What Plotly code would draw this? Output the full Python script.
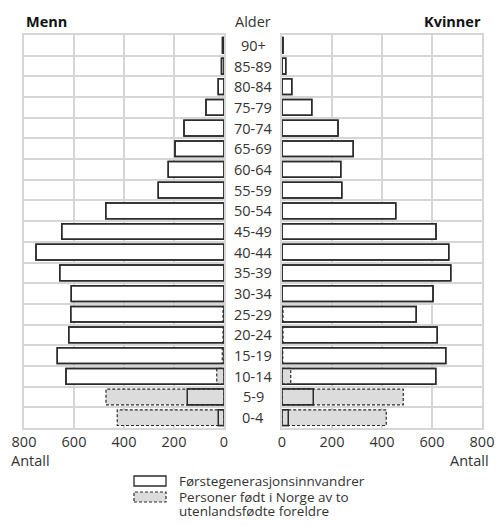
import plotly.graph_objects as go

categories = ["0-4", "5-9", "10-14", "15-19", "20-24", "25-29", "30-34", "35-39",
              "40-44", "45-49", "50-54", "55-59", "60-64", "65-69", "70-74",
              "75-79", "80-84", "85-89", "90+"]
menn_forste = [23, 147, 632, 667, 621, 613, 611, 657, 752, 649, 473, 263, 223, 196, 160, 72, 23, 10, 6]
menn_norge = [427, 472, 29, 7, 4, 4, 0, 0, 0, 0, 0, 0, 0, 0, 0, 0, 0, 0, 0]
kvinner_forste = [25, 125, 615, 655, 621, 537, 604, 675, 667, 616, 455, 239, 235, 285, 224, 119, 39, 15, 4]
kvinner_norge = [417, 485, 35, 3, 4, 4, 0, 0, 0, 0, 0, 0, 0, 0, 0, 0, 0, 0, 0]
x_ticks = [0, 200, 400, 600, 800]

legend_line1 = "Førstegenerasjonsinnvandrer"
legend_line2 = ["Personer født i Norge av to", "utenlandsfødte foreldre"]

FONT = "Open Sans"
TXT = "#333333"
GRID = "#d6d6d6"
OUT = "#2b2b2b"
GREY = "#dcdcdc"
BW = 0.76

W, H = 497, 525
pos = list(range(len(categories)))

fig = go.Figure()


def add_side(forste, norge, xa, ya):
    fig.add_trace(go.Bar(y=pos, x=forste, orientation="h", width=BW, xaxis=xa, yaxis=ya,
                         marker=dict(color="white", line=dict(color=OUT, width=1.5)),
                         showlegend=False, hoverinfo="skip"))
    fig.add_trace(go.Bar(y=pos, x=norge, orientation="h", width=BW, xaxis=xa, yaxis=ya,
                         marker=dict(color=GREY, line=dict(width=0)),
                         showlegend=False, hoverinfo="skip"))
    xs, ys = [], []
    for i, v in zip(pos, norge):
        if v > 0:
            xs += [0, v, v, 0, 0, None]
            ys += [i - BW / 2, i - BW / 2, i + BW / 2, i + BW / 2, i - BW / 2, None]
    fig.add_trace(go.Scatter(x=xs, y=ys, mode="lines", xaxis=xa, yaxis=ya,
                             line=dict(color=OUT, width=1.2, dash="3px,2px"),
                             showlegend=False, hoverinfo="skip"))
    fig.add_trace(go.Bar(y=pos, x=forste, orientation="h", width=BW, xaxis=xa, yaxis=ya,
                         marker=dict(color="rgba(0,0,0,0)", line=dict(color=OUT, width=1.5)),
                         showlegend=False, hoverinfo="skip"))


add_side(menn_forste, menn_norge, "x", "y")
add_side(kvinner_forste, kvinner_norge, "x2", "y2")

px = lambda v: v / W
py = lambda v: 1 - v / H

y_dom = [py(428), py(35)]
boundaries = [i - 0.5 for i in range(len(categories) + 1)]

xaxis_common = dict(tickvals=x_ticks, ticktext=[str(t) for t in x_ticks], showgrid=True,
                    gridcolor=GRID, gridwidth=2, zeroline=False, showline=True, linecolor=GRID,
                    linewidth=2, mirror=True, ticks="", fixedrange=True,
                    tickfont=dict(family=FONT, size=14.5, color=TXT))
yaxis_common = dict(range=[-0.5, len(categories) - 0.5], tickvals=boundaries, showticklabels=False,
                    showgrid=True, gridcolor=GRID, gridwidth=2, zeroline=False, showline=True,
                    linecolor=GRID, linewidth=2, mirror=True, ticks="", domain=y_dom, fixedrange=True)

fig.update_layout(
    width=W, height=H, margin=dict(l=0, r=0, t=0, b=0, autoexpand=False),
    paper_bgcolor="white", plot_bgcolor="white", barmode="overlay",
    xaxis=dict(domain=[px(24), px(224)], range=[800, 0], anchor="y", **xaxis_common),
    xaxis2=dict(domain=[px(282), px(482)], range=[0, 800], anchor="y2", **xaxis_common),
    yaxis=dict(anchor="x", **yaxis_common),
    yaxis2=dict(anchor="x2", **yaxis_common),
    font=dict(family=FONT, color=TXT),
)

ann = []
for i, c in zip(pos, categories):
    ann.append(dict(x=px(253.5), xref="paper", y=i, yref="y", text=c, showarrow=False,
                    xanchor="center", yanchor="middle", font=dict(family=FONT, size=14.5, color=TXT)))
ann.append(dict(x=px(253.5), xref="paper", y=py(21), yref="paper", text="Alder", showarrow=False,
                xanchor="center", yanchor="middle", font=dict(family=FONT, size=14.5, color=TXT)))
ann.append(dict(x=px(24), xref="paper", y=py(21), yref="paper", text="<b>Menn</b>", showarrow=False,
                xanchor="left", yanchor="middle", font=dict(family=FONT, size=14.5, color="#111111")))
ann.append(dict(x=px(483), xref="paper", y=py(21), yref="paper", text="<b>Kvinner</b>", showarrow=False,
                xanchor="right", yanchor="middle", font=dict(family=FONT, size=14.5, color="#111111")))
ann.append(dict(x=px(9), xref="paper", y=py(460), yref="paper", text="Antall", showarrow=False,
                xanchor="left", yanchor="middle", font=dict(family=FONT, size=14.5, color=TXT)))
ann.append(dict(x=px(491), xref="paper", y=py(460), yref="paper", text="Antall", showarrow=False,
                xanchor="right", yanchor="middle", font=dict(family=FONT, size=14.5, color=TXT)))
for txt, yy in [(legend_line1, 481), (legend_line2[0], 497), (legend_line2[1], 510.5)]:
    ann.append(dict(x=px(178), xref="paper", y=py(yy), yref="paper", text=txt, showarrow=False,
                    xanchor="left", yanchor="middle", align="left", borderpad=0,
                    font=dict(family=FONT, size=13.5, color=TXT)))

shapes = [
    dict(type="rect", xref="paper", yref="paper", x0=px(134), x1=px(166), y0=py(486), y1=py(476),
         fillcolor="white", line=dict(color=OUT, width=1.3)),
    dict(type="rect", xref="paper", yref="paper", x0=px(134), x1=px(166), y0=py(502), y1=py(492),
         fillcolor=GREY, line=dict(color=OUT, width=1.2, dash="3px,2px")),
]
fig.update_layout(annotations=ann, shapes=shapes)

fig.write_html("out.html", config={"displayModeBar": False, "staticPlot": True},
               post_script="document.body.style.margin='0';document.body.style.overflow='hidden';")
